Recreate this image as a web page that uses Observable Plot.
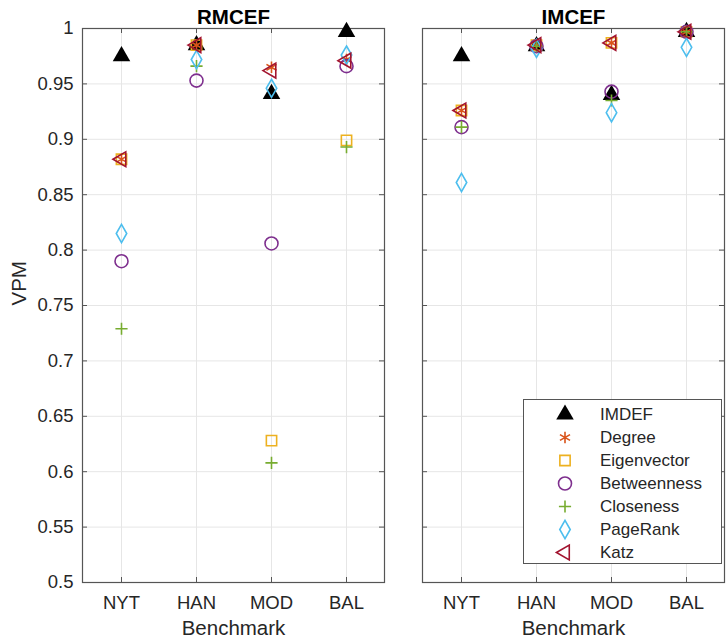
<!DOCTYPE html>
<html><head><meta charset="utf-8">
<script src="https://cdn.jsdelivr.net/npm/d3@7"></script>
<script src="https://cdn.jsdelivr.net/npm/@observablehq/plot@0.6"></script>
<style>
body{margin:0;background:#fff;}
#wrap{position:relative;width:728px;height:644px;font-family:"Liberation Sans",Arial,Helvetica,sans-serif;color:#262626;}
#wrap > svg{position:absolute;top:0;}
</style></head><body><div id="wrap"></div>
<script>
// ---- data ----
const benchmarks = ["NYT", "HAN", "MOD", "BAL"];
const methods = ["IMDEF", "Degree", "Eigenvector", "Betweenness", "Closeness", "PageRank", "Katz"];
const yTicks = [0.5, 0.55, 0.6, 0.65, 0.7, 0.75, 0.8, 0.85, 0.9, 0.95, 1];
const panelTitles = ["RMCEF", "IMCEF"];
// values per method (rows, in methods order) x benchmark (columns)
const rmcefValues = [
  [0.975, 0.985, 0.941, 0.997], // IMDEF
  [0.882, 0.985, 0.965, 0.972], // Degree
  [0.882, 0.985, 0.628, 0.899], // Eigenvector
  [0.790, 0.953, 0.806, 0.966], // Betweenness
  [0.729, 0.966, 0.608, 0.893], // Closeness
  [0.815, 0.972, 0.946, 0.976], // PageRank
  [0.882, 0.985, 0.962, 0.971]  // Katz
];
const imcefValues = [
  [0.975, 0.984, 0.940, 0.997], // IMDEF
  [0.926, 0.985, 0.987, 0.997], // Degree
  [0.926, 0.985, 0.987, 0.997], // Eigenvector
  [0.911, 0.984, 0.943, 0.997], // Betweenness
  [0.911, 0.984, 0.935, 0.997], // Closeness
  [0.861, 0.982, 0.924, 0.983], // PageRank
  [0.926, 0.985, 0.987, 0.997]  // Katz
];

// ---- styles ----
const styles = {
  IMDEF:       {symbol: "triangle", r: 6.5, fill: "#000000", stroke: "none", rotate: 0},
  Degree:      {symbol: "asterisk", r: 5.5, fill: "none", stroke: "#D95319", rotate: 0},
  Eigenvector: {symbol: "square",   r: 5.8, fill: "none", stroke: "#EDB120", rotate: 0},
  Betweenness: {symbol: "circle",   r: 6.5, fill: "none", stroke: "#7E2F8E", rotate: 0},
  Closeness:   {symbol: "plus",     r: 4.0, fill: "none", stroke: "#77AC30", rotate: 0},
  PageRank:    {symbol: "diamond",  r: 5.5, fill: "none", stroke: "#4DBEEE", rotate: 0},
  Katz:        {symbol: "triangle", r: 5.5, fill: "none", stroke: "#A2142F", rotate: -90}
};
const d3Symbols = {triangle: d3.symbolTriangle, asterisk: d3.symbolAsterisk, square: d3.symbolSquare,
  circle: d3.symbolCircle, plus: d3.symbolPlus, diamond: d3.symbolDiamond};

const H = 644, MT = 28, MB = 62, INNER_W = 302, INNER_H = H - MT - MB;
const gridColor = "#e6e6e6", frameColor = "#555555", textColor = "#262626";
const FONT = '"Liberation Sans", Arial, Helvetica, sans-serif';

function panel(title, values, width, marginLeft, marginRight, showY) {
  const marks = [
    Plot.gridX(benchmarks, {stroke: gridColor, strokeOpacity: 1}),
    Plot.gridY(yTicks, {stroke: gridColor, strokeOpacity: 1}),
    Plot.frame({stroke: frameColor, strokeWidth: 1.2}),
    // inward ticks on all four sides
    Plot.tickY(yTicks, {y: d => d, stroke: frameColor, insetRight: INNER_W - 5}),
    Plot.tickY(yTicks, {y: d => d, stroke: frameColor, insetLeft: INNER_W - 5}),
    Plot.tickX(benchmarks, {x: d => d, stroke: frameColor, insetBottom: INNER_H - 5}),
    Plot.tickX(benchmarks, {x: d => d, stroke: frameColor, insetTop: INNER_H - 5}),
    Plot.axisX(benchmarks, {tickSize: 0, tickPadding: 13, fontSize: 18.5, label: null, fill: textColor}),
    Plot.text([title], {frameAnchor: "top", lineAnchor: "bottom", dy: -5, fontSize: 20.5, fontWeight: "bold", fill: "#000"}),
    Plot.text(["Benchmark"], {frameAnchor: "bottom", lineAnchor: "top", dy: 38, fontSize: 20.5, fill: textColor})
  ];
  if (showY) {
    marks.push(Plot.axisY(yTicks, {tickSize: 0, tickPadding: 9, fontSize: 18.5, label: null, tickFormat: d => String(d), fill: textColor}));
    marks.push(Plot.text(["VPM"], {frameAnchor: "left", dx: -63, rotate: -90, fontSize: 20.5, fill: textColor}));
  }
  methods.forEach((m, i) => {
    const s = styles[m];
    const rows = benchmarks.map((b, j) => ({bench: b, value: values[i][j]}));
    marks.push(Plot.dot(rows, {x: "bench", y: "value", symbol: s.symbol, r: s.r, fill: s.fill,
      stroke: s.stroke, strokeWidth: 1.6, rotate: s.rotate}));
  });
  return Plot.plot({
    width, height: H, marginTop: MT, marginBottom: MB, marginLeft, marginRight,
    style: {fontFamily: FONT, background: "transparent", color: textColor, overflow: "visible"},
    x: {type: "point", domain: benchmarks, padding: 0.5, axis: null},
    y: {domain: [0.5, 1], axis: null},
    marks
  });
}

const wrap = document.getElementById("wrap");
const left = panel(panelTitles[0], rmcefValues, 400, 82, 16, true);
left.style.left = "0px";
const right = panel(panelTitles[1], imcefValues, 328, 22, 4, false);
right.style.left = "400px";
wrap.appendChild(left);
wrap.appendChild(right);

// legend
const legend = document.createElement("div");
Object.assign(legend.style, {position: "absolute", left: "523px", top: "399px", width: "199px", height: "165px",
  boxSizing: "border-box", border: "1px solid " + frameColor, background: "#fff", paddingTop: "3px"});
methods.forEach(m => {
  const s = styles[m];
  const row = document.createElement("div");
  Object.assign(row.style, {position: "relative", height: "23px"});
  const svg = d3.create("svg").attr("width", 30).attr("height", 23)
    .style("position", "absolute").style("left", "26px").style("top", "0px").style("overflow", "visible");
  svg.append("path")
    .attr("d", d3.symbol(d3Symbols[s.symbol], Math.PI * s.r * s.r)())
    .attr("transform", `translate(15,11.5) rotate(${s.rotate})`)
    .attr("fill", s.fill).attr("stroke", s.stroke).attr("stroke-width", 1.6);
  row.appendChild(svg.node());
  const label = document.createElement("span");
  label.textContent = m;
  Object.assign(label.style, {position: "absolute", left: "76px", top: "0px", lineHeight: "23px", fontSize: "17px", color: textColor});
  row.appendChild(label);
  legend.appendChild(row);
});
wrap.appendChild(legend);
</script>
</body></html>
